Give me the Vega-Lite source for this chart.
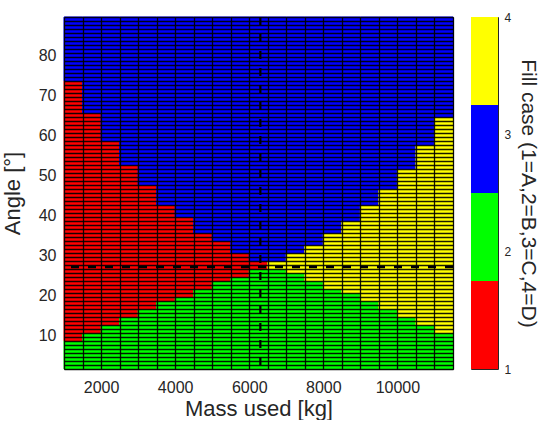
{
  "$schema": "https://vega.github.io/schema/vega-lite/v6.json",
  "padding": {"left": 0, "top": 10, "right": 0, "bottom": 0},
  "background": "white",
  "config": {
    "font": "Liberation Sans",
    "view": {"stroke": "#262626", "strokeWidth": 1},
    "axis": {"labelColor": "#262626", "titleColor": "#262626", "titleFontWeight": "normal", "labelFontSize": 16, "titleFontSize": 22}
  },
  "datasets": {
    "cells": [
      {"m0": 1000, "m1": 1500, "a0": 1.5, "a1": 8.5, "c": 2}, {"m0": 1000, "m1": 1500, "a0": 8.5, "a1": 73.5, "c": 1}, {"m0": 1000, "m1": 1500, "a0": 73.5, "a1": 89.5, "c": 3},
      {"m0": 1500, "m1": 2000, "a0": 1.5, "a1": 10.5, "c": 2}, {"m0": 1500, "m1": 2000, "a0": 10.5, "a1": 65.5, "c": 1}, {"m0": 1500, "m1": 2000, "a0": 65.5, "a1": 89.5, "c": 3},
      {"m0": 2000, "m1": 2500, "a0": 1.5, "a1": 12.5, "c": 2}, {"m0": 2000, "m1": 2500, "a0": 12.5, "a1": 58.5, "c": 1}, {"m0": 2000, "m1": 2500, "a0": 58.5, "a1": 89.5, "c": 3},
      {"m0": 2500, "m1": 3000, "a0": 1.5, "a1": 14.5, "c": 2}, {"m0": 2500, "m1": 3000, "a0": 14.5, "a1": 52.5, "c": 1}, {"m0": 2500, "m1": 3000, "a0": 52.5, "a1": 89.5, "c": 3},
      {"m0": 3000, "m1": 3500, "a0": 1.5, "a1": 16.5, "c": 2}, {"m0": 3000, "m1": 3500, "a0": 16.5, "a1": 47.5, "c": 1}, {"m0": 3000, "m1": 3500, "a0": 47.5, "a1": 89.5, "c": 3},
      {"m0": 3500, "m1": 4000, "a0": 1.5, "a1": 18.5, "c": 2}, {"m0": 3500, "m1": 4000, "a0": 18.5, "a1": 42.5, "c": 1}, {"m0": 3500, "m1": 4000, "a0": 42.5, "a1": 89.5, "c": 3},
      {"m0": 4000, "m1": 4500, "a0": 1.5, "a1": 19.5, "c": 2}, {"m0": 4000, "m1": 4500, "a0": 19.5, "a1": 39.5, "c": 1}, {"m0": 4000, "m1": 4500, "a0": 39.5, "a1": 89.5, "c": 3},
      {"m0": 4500, "m1": 5000, "a0": 1.5, "a1": 21.5, "c": 2}, {"m0": 4500, "m1": 5000, "a0": 21.5, "a1": 35.5, "c": 1}, {"m0": 4500, "m1": 5000, "a0": 35.5, "a1": 89.5, "c": 3},
      {"m0": 5000, "m1": 5500, "a0": 1.5, "a1": 23.5, "c": 2}, {"m0": 5000, "m1": 5500, "a0": 23.5, "a1": 33.5, "c": 1}, {"m0": 5000, "m1": 5500, "a0": 33.5, "a1": 89.5, "c": 3},
      {"m0": 5500, "m1": 6000, "a0": 1.5, "a1": 24.5, "c": 2}, {"m0": 5500, "m1": 6000, "a0": 24.5, "a1": 30.5, "c": 1}, {"m0": 5500, "m1": 6000, "a0": 30.5, "a1": 89.5, "c": 3},
      {"m0": 6000, "m1": 6500, "a0": 1.5, "a1": 26.5, "c": 2}, {"m0": 6000, "m1": 6500, "a0": 26.5, "a1": 28.5, "c": 1}, {"m0": 6000, "m1": 6500, "a0": 28.5, "a1": 89.5, "c": 3},
      {"m0": 6500, "m1": 7000, "a0": 1.5, "a1": 26.5, "c": 2}, {"m0": 6500, "m1": 7000, "a0": 26.5, "a1": 28.5, "c": 4}, {"m0": 6500, "m1": 7000, "a0": 28.5, "a1": 89.5, "c": 3},
      {"m0": 7000, "m1": 7500, "a0": 1.5, "a1": 25.5, "c": 2}, {"m0": 7000, "m1": 7500, "a0": 25.5, "a1": 30.5, "c": 4}, {"m0": 7000, "m1": 7500, "a0": 30.5, "a1": 89.5, "c": 3},
      {"m0": 7500, "m1": 8000, "a0": 1.5, "a1": 23.5, "c": 2}, {"m0": 7500, "m1": 8000, "a0": 23.5, "a1": 32.5, "c": 4}, {"m0": 7500, "m1": 8000, "a0": 32.5, "a1": 89.5, "c": 3},
      {"m0": 8000, "m1": 8500, "a0": 1.5, "a1": 21.5, "c": 2}, {"m0": 8000, "m1": 8500, "a0": 21.5, "a1": 35.5, "c": 4}, {"m0": 8000, "m1": 8500, "a0": 35.5, "a1": 89.5, "c": 3},
      {"m0": 8500, "m1": 9000, "a0": 1.5, "a1": 20.5, "c": 2}, {"m0": 8500, "m1": 9000, "a0": 20.5, "a1": 38.5, "c": 4}, {"m0": 8500, "m1": 9000, "a0": 38.5, "a1": 89.5, "c": 3},
      {"m0": 9000, "m1": 9500, "a0": 1.5, "a1": 18.5, "c": 2}, {"m0": 9000, "m1": 9500, "a0": 18.5, "a1": 42.5, "c": 4}, {"m0": 9000, "m1": 9500, "a0": 42.5, "a1": 89.5, "c": 3},
      {"m0": 9500, "m1": 10000, "a0": 1.5, "a1": 16.5, "c": 2}, {"m0": 9500, "m1": 10000, "a0": 16.5, "a1": 46.5, "c": 4}, {"m0": 9500, "m1": 10000, "a0": 46.5, "a1": 89.5, "c": 3},
      {"m0": 10000, "m1": 10500, "a0": 1.5, "a1": 14.5, "c": 2}, {"m0": 10000, "m1": 10500, "a0": 14.5, "a1": 51.5, "c": 4}, {"m0": 10000, "m1": 10500, "a0": 51.5, "a1": 89.5, "c": 3},
      {"m0": 10500, "m1": 11000, "a0": 1.5, "a1": 12.5, "c": 2}, {"m0": 10500, "m1": 11000, "a0": 12.5, "a1": 57.5, "c": 4}, {"m0": 10500, "m1": 11000, "a0": 57.5, "a1": 89.5, "c": 3},
      {"m0": 11000, "m1": 11500, "a0": 1.5, "a1": 10.5, "c": 2}, {"m0": 11000, "m1": 11500, "a0": 10.5, "a1": 64.5, "c": 4}, {"m0": 11000, "m1": 11500, "a0": 64.5, "a1": 89.5, "c": 3}
    ],
    "bar": [
      {"lo": 1, "hi": 1.75, "c": 1},
      {"lo": 1.75, "hi": 2.5, "c": 2},
      {"lo": 2.5, "hi": 3.25, "c": 3},
      {"lo": 3.25, "hi": 4, "c": 4}
    ],
    "vline": [{"mass": 6300}],
    "hline": [{"angle": 27}]
  },
  "hconcat": [
    {
      "width": 389,
      "height": 352,
      "layer": [
        {
          "data": {"name": "cells"},
          "mark": {"type": "rect", "strokeWidth": 1},
          "encoding": {
            "x": {"field": "m0", "type": "quantitative", "scale": {"domain": [1000, 11500], "nice": false, "zero": false},
              "axis": {"title": "Mass used [kg]", "values": [2000, 4000, 6000, 8000, 10000], "format": "d",
                "grid": false, "ticks": false, "domain": false, "labelPadding": 10, "titlePadding": 3}},
            "x2": {"field": "m1"},
            "y": {"field": "a0", "type": "quantitative", "scale": {"domain": [1.5, 89.5], "nice": false, "zero": false},
              "axis": {"title": "Angle [°]", "values": [10, 20, 30, 40, 50, 60, 70, 80], "grid": false, "ticks": false, "domain": false, "labelPadding": 8, "titlePadding": 14}},
            "y2": {"field": "a1"},
            "color": {"field": "c", "type": "nominal", "scale": {"domain": [1, 2, 3, 4], "range": ["#ff0000", "#00ff00", "#0000ff", "#ffff00"]}, "legend": null},
            "stroke": {"field": "c", "type": "nominal", "scale": {"domain": [1, 2, 3, 4], "range": ["#ff0000", "#00ff00", "#0000ff", "#ffff00"]}, "legend": null}
          }
        },
        {
          "data": {"name": "vline"},
          "mark": {"type": "rule", "color": "#000000", "strokeWidth": 2.2, "strokeDash": [8, 9]},
          "encoding": {"x": {"field": "mass", "type": "quantitative",
            "axis": {"orient": "top", "title": null, "labels": false, "ticks": false, "domain": false, "grid": true, "gridColor": "#000000", "gridWidth": 1.3, "gridOpacity": 0.9, "zindex": 1, "minExtent": 0, "maxExtent": 0,
              "values": [1000, 1500, 2000, 2500, 3000, 3500, 4000, 4500, 5000, 5500, 6000, 6500, 7000, 7500, 8000, 8500, 9000, 9500, 10000, 10500, 11000, 11500]}}}
        },
        {
          "data": {"name": "hline"},
          "mark": {"type": "rule", "color": "#000000", "strokeWidth": 2.5, "strokeDash": [8, 9]},
          "encoding": {"y": {"field": "angle", "type": "quantitative",
            "axis": {"orient": "right", "title": null, "labels": false, "ticks": false, "domain": false, "grid": true, "gridColor": "#000000", "gridWidth": 1.3, "gridOpacity": 0.9, "zindex": 1, "minExtent": 0, "maxExtent": 0,
              "values": [1.5, 2.5, 3.5, 4.5, 5.5, 6.5, 7.5, 8.5, 9.5, 10.5, 11.5, 12.5, 13.5, 14.5, 15.5, 16.5, 17.5, 18.5, 19.5, 20.5, 21.5, 22.5, 23.5, 24.5, 25.5, 26.5, 27.5, 28.5, 29.5, 30.5, 31.5, 32.5, 33.5, 34.5, 35.5, 36.5, 37.5, 38.5, 39.5, 40.5, 41.5, 42.5, 43.5, 44.5, 45.5, 46.5, 47.5, 48.5, 49.5, 50.5, 51.5, 52.5, 53.5, 54.5, 55.5, 56.5, 57.5, 58.5, 59.5, 60.5, 61.5, 62.5, 63.5, 64.5, 65.5, 66.5, 67.5, 68.5, 69.5, 70.5, 71.5, 72.5, 73.5, 74.5, 75.5, 76.5, 77.5, 78.5, 79.5, 80.5, 81.5, 82.5, 83.5, 84.5, 85.5, 86.5, 87.5, 88.5, 89.5]}}}
        }
      ],
      "resolve": {"axis": {"x": "independent", "y": "independent"}}
    },
    {
      "width": 27,
      "height": 352,
      "data": {"name": "bar"},
      "mark": {"type": "rect", "strokeWidth": 0},
      "encoding": {
        "x": {"datum": 0, "type": "quantitative", "scale": {"domain": [0, 1], "nice": false, "zero": false}, "axis": null},
        "x2": {"datum": 1},
        "y": {"field": "lo", "type": "quantitative", "scale": {"domain": [1, 4], "nice": false, "zero": false},
          "axis": {"orient": "right", "values": [1, 2, 3, 4], "format": "d", "title": "Fill case (1=A,2=B,3=C,4=D)", "labelFontSize": 12, "titleFontSize": 21, "ticks": false, "domain": false, "grid": false, "labelPadding": 6, "titlePadding": 7}},
        "y2": {"field": "hi"},
        "color": {"field": "c", "type": "nominal", "scale": {"domain": [1, 2, 3, 4], "range": ["#ff0000", "#00ff00", "#0000ff", "#ffff00"]}, "legend": null}
      }
    }
  ],
  "spacing": 15
}
